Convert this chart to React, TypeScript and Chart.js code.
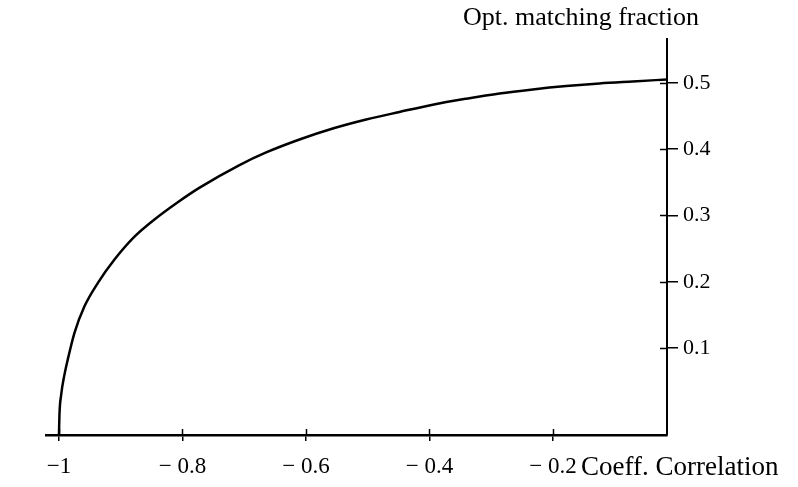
import React, { useEffect, useRef } from "react";
import { Chart, registerables } from "chart.js";

Chart.register(...registerables);

// Curve: correlation coefficient vs optimal matching fraction
const corrValues = [
  -1, -0.9992, -0.9964, -0.9911, -0.9857, -0.9749, -0.9587, -0.9372, -0.9101,
  -0.8777, -0.8453, -0.8076, -0.7722, -0.7077, -0.6645, -0.6105, -0.5566,
  -0.5025, -0.4486, -0.3947, -0.3406, -0.2866, -0.2327, -0.1786, -0.1247,
  -0.0708, -0.0154,
];
const fractionValues = [
  -0.03, 0.0, 0.03, 0.06, 0.083, 0.123, 0.163, 0.198, 0.2335,
  0.268, 0.294, 0.32, 0.342, 0.376, 0.395, 0.4145, 0.431,
  0.4446, 0.456, 0.467, 0.476, 0.484, 0.49, 0.495, 0.499,
  0.502, 0.505,
];

const xTickValues = [-1, -0.8, -0.6, -0.4, -0.2];
const xTickLabels = ["\u22121", "\u2212 0.8", "\u2212 0.6", "\u2212 0.4", "\u2212 0.2"];
const yTickValues = [0.1, 0.2, 0.3, 0.4, 0.5];
const yTickLabels = ["0.1", "0.2", "0.3", "0.4", "0.5"];

const xTitle = "Coeff. Correlation";
const yTitle = "Opt. matching fraction";

const X_MIN = -1.021;
const X_MAX = -0.0154;
const Y_MIN = -0.031;
const Y_MAX = 0.566;

const FONT = '"Liberation Serif", "DejaVu Serif", serif';

const decor = {
  id: "decor",
  afterDraw(chart: any) {
    const { ctx, scales } = chart;
    const x = scales.x;
    const y = scales.y;
    const yAxisX = x.getPixelForValue(X_MAX);
    const xAxisY = y.getPixelForValue(Y_MIN);
    ctx.save();
    ctx.strokeStyle = "#000";
    ctx.lineWidth = 1.5;
    ctx.beginPath();
    xTickValues.forEach((v) => {
      const px = Math.round(x.getPixelForValue(v)) + 0.5;
      ctx.moveTo(px, xAxisY - 6);
      ctx.lineTo(px, xAxisY);
    });
    yTickValues.forEach((v) => {
      const py = Math.round(y.getPixelForValue(v)) + 0.5;
      ctx.moveTo(yAxisX - 7, py);
      ctx.lineTo(yAxisX, py);
    });
    ctx.stroke();
    ctx.fillStyle = "#000";
    ctx.textBaseline = "alphabetic";
    ctx.font = `26px ${FONT}`;
    ctx.textAlign = "right";
    ctx.fillText(yTitle, yAxisX + 32, 25);
    ctx.font = `27px ${FONT}`;
    ctx.textAlign = "left";
    ctx.fillText(xTitle, x.getPixelForValue(-0.2) + 28, 475);
    ctx.restore();
  },
};

export default function App() {
  const ref = useRef<HTMLCanvasElement | null>(null);
  useEffect(() => {
    if (!ref.current) return;
    const chart = new Chart(ref.current, {
      type: "scatter",
      data: {
        datasets: [
          {
            data: corrValues.map((c, i) => ({ x: c, y: fractionValues[i] })),
            showLine: true,
            borderColor: "#000",
            borderWidth: 2.5,
            pointRadius: 0,
            cubicInterpolationMode: "monotone",
            clip: 8,
          } as any,
        ],
      },
      options: {
        responsive: false,
        animation: false,
        events: [],
        layout: { padding: { top: 39, left: 46, right: 0, bottom: 0 } },
        plugins: { legend: { display: false }, tooltip: { enabled: false }, title: { display: false } },
        scales: {
          x: {
            type: "linear",
            position: "bottom",
            min: X_MIN,
            max: X_MAX,
            afterBuildTicks: (s: any) => {
              s.ticks = xTickValues.map((v) => ({ value: v }));
            },
            afterFit: (s: any) => {
              s.height = 487 - 435;
            },
            grid: { display: true, drawOnChartArea: false, drawTicks: true, tickLength: 6, color: "#000", lineWidth: 1.5 },
            border: { display: true, color: "#000", width: 2.5 },
            ticks: {
              autoSkip: false,
              maxRotation: 0,
              padding: 12,
              color: "#000",
              font: { family: FONT, size: 23 },
              callback: (v: any) => {
                const i = xTickValues.findIndex((t) => Math.abs(t - Number(v)) < 1e-6);
                return i >= 0 ? xTickLabels[i] : "";
              },
            },
          },
          y: {
            type: "linear",
            position: "right",
            min: Y_MIN,
            max: Y_MAX,
            afterBuildTicks: (s: any) => {
              s.ticks = yTickValues.map((v) => ({ value: v }));
            },
            afterFit: (s: any) => {
              s.width = 798 - 667;
            },
            grid: { display: true, drawOnChartArea: false, drawTicks: true, tickLength: 11, color: "#000", lineWidth: 1.5 },
            border: { display: true, color: "#000", width: 2 },
            ticks: {
              autoSkip: false,
              padding: 5,
              color: "#000",
              font: { family: FONT, size: 22 },
              callback: (v: any) => {
                const i = yTickValues.findIndex((t) => Math.abs(t - Number(v)) < 1e-6);
                return i >= 0 ? yTickLabels[i] : "";
              },
            },
          },
        },
      },
      plugins: [decor],
    });
    return () => chart.destroy();
  }, []);
  return (
    <div style={{ position: "fixed", left: 0, top: 0, width: 798, height: 487, background: "#fff" }}>
      <canvas ref={ref} width={798} height={487} style={{ display: "block" }} />
    </div>
  );
}
